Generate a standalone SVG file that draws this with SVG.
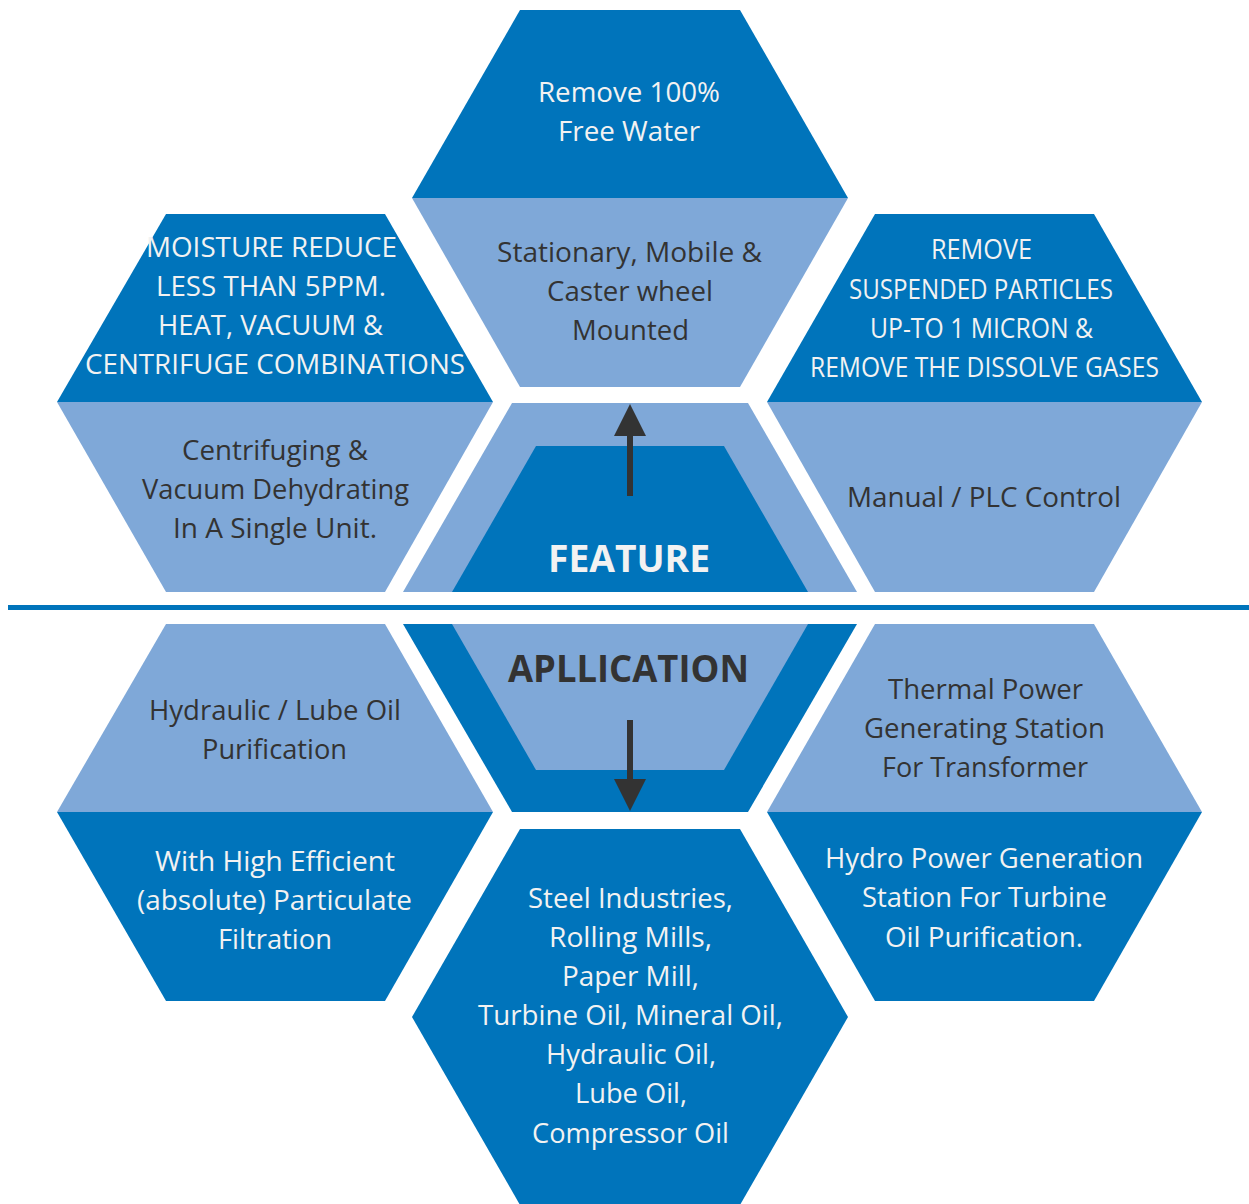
<svg xmlns="http://www.w3.org/2000/svg" width="1249" height="1204" viewBox="0 0 1249 1204">
<defs>
<style>
.dark{fill:#0074BB}
.light{fill:#7FA8D8}
text{font-family:'Open Sans','Liberation Sans',sans-serif;font-size:28px;text-anchor:middle}
.tw{fill:#F2F2F2}
.td{fill:#333333}
.title{font-weight:bold;font-size:38px}
.conn{stroke:#333333;stroke-width:6;fill:none}
</style>
<marker id="head" viewBox="0 0 32 32" markerWidth="32" markerHeight="32" markerUnits="userSpaceOnUse" refX="0" refY="16" orient="auto">
<path d="M0,0 L32,16 L0,32 z" fill="#333333"/>
</marker>
</defs>
<rect width="1249" height="1204" fill="#FFFFFF"/>

<g id="hex-top">
<polygon class="dark" points="520,10 740,10 848,198 412,198"/>
<polygon class="light" points="412,198 848,198 740,387 520,387"/>
<text class="tw" x="629" y="102" textLength="182" lengthAdjust="spacingAndGlyphs">Remove 100%</text>
<text class="tw" x="629" y="141" textLength="142" lengthAdjust="spacingAndGlyphs">Free Water</text>
<text class="td" x="629.5" y="262" textLength="265" lengthAdjust="spacingAndGlyphs">Stationary, Mobile &amp;</text>
<text class="td" x="630" y="301" textLength="166" lengthAdjust="spacingAndGlyphs">Caster wheel</text>
<text class="td" x="630.5" y="340" textLength="117" lengthAdjust="spacingAndGlyphs">Mounted</text>
</g>

<g id="hex-upper-left">
<polygon class="dark" points="166,214 385,214 493,402 57,402"/>
<polygon class="light" points="57,402 493,402 385,592 166,592"/>
<text class="tw" x="271.5" y="257" textLength="251" lengthAdjust="spacingAndGlyphs">MOISTURE REDUCE</text>
<text class="tw" x="271" y="296" textLength="230" lengthAdjust="spacingAndGlyphs">LESS THAN 5PPM.</text>
<text class="tw" x="270.5" y="335" textLength="225" lengthAdjust="spacingAndGlyphs">HEAT, VACUUM &amp;</text>
<text class="tw" x="275" y="374" textLength="380" lengthAdjust="spacingAndGlyphs">CENTRIFUGE COMBINATIONS</text>
<text class="td" x="275" y="460" textLength="186" lengthAdjust="spacingAndGlyphs">Centrifuging &amp;</text>
<text class="td" x="275.5" y="499" textLength="267" lengthAdjust="spacingAndGlyphs">Vacuum Dehydrating</text>
<text class="td" x="275" y="538" textLength="204" lengthAdjust="spacingAndGlyphs">In A Single Unit.</text>
</g>

<g id="hex-upper-right">
<polygon class="dark" points="875,214 1094,214 1202,402 767,402"/>
<polygon class="light" points="767,402 1202,402 1094,592 875,592"/>
<text class="tw" x="981.5" y="259" textLength="101" lengthAdjust="spacingAndGlyphs">REMOVE</text>
<text class="tw" x="981" y="299" textLength="264" lengthAdjust="spacingAndGlyphs">SUSPENDED PARTICLES</text>
<text class="tw" x="981.5" y="338" textLength="223" lengthAdjust="spacingAndGlyphs">UP-TO 1 MICRON &amp;</text>
<text class="tw" x="984.5" y="377" textLength="349" lengthAdjust="spacingAndGlyphs">REMOVE THE DISSOLVE GASES</text>
<text class="td" x="984" y="507" textLength="274" lengthAdjust="spacingAndGlyphs">Manual / PLC Control</text>
</g>

<g id="feature">
<polygon class="light" points="512,403 748,403 857,592 403,592"/>
<polygon class="dark" points="536,446 724,446 808,592 452,592"/>
<text class="tw title" x="629" y="572" textLength="162" lengthAdjust="spacingAndGlyphs" fill="#FFFFFF">FEATURE</text>
</g>

<g id="divider">
<rect x="8" y="605" width="1241" height="5" fill="#0074BB"/>
</g>

<g id="application">
<polygon class="dark" points="403,624 857,624 748,812 512,812"/>
<polygon class="light" points="452,624 808,624 724,770 536,770"/>
<text class="td title" x="628.5" y="682" textLength="241" lengthAdjust="spacingAndGlyphs">APLLICATION</text>
</g>

<g id="hex-lower-left">
<polygon class="light" points="166,624 385,624 493,812 57,812"/>
<polygon class="dark" points="57,812 493,812 385,1001 166,1001"/>
<text class="td" x="275" y="720" textLength="252" lengthAdjust="spacingAndGlyphs">Hydraulic / Lube Oil</text>
<text class="td" x="274.5" y="759" textLength="145" lengthAdjust="spacingAndGlyphs">Purification</text>
<text class="tw" x="275" y="871" textLength="240" lengthAdjust="spacingAndGlyphs">With High Efficient</text>
<text class="tw" x="274.5" y="910" textLength="275" lengthAdjust="spacingAndGlyphs">(absolute) Particulate</text>
<text class="tw" x="275" y="949" textLength="114" lengthAdjust="spacingAndGlyphs">Filtration</text>
</g>

<g id="hex-lower-right">
<polygon class="light" points="875,624 1094,624 1202,812 767,812"/>
<polygon class="dark" points="767,812 1202,812 1094,1001 875,1001"/>
<text class="td" x="985.5" y="699" textLength="195" lengthAdjust="spacingAndGlyphs">Thermal Power</text>
<text class="td" x="984.5" y="738" textLength="241" lengthAdjust="spacingAndGlyphs">Generating Station</text>
<text class="td" x="985" y="777" textLength="206" lengthAdjust="spacingAndGlyphs">For Transformer</text>
<text class="tw" x="984" y="868" textLength="318" lengthAdjust="spacingAndGlyphs">Hydro Power Generation</text>
<text class="tw" x="984.5" y="907" textLength="245" lengthAdjust="spacingAndGlyphs">Station For Turbine</text>
<text class="tw" x="984" y="947" textLength="198" lengthAdjust="spacingAndGlyphs">Oil Purification.</text>
</g>

<g id="hex-bottom">
<polygon class="dark" points="520,829 740,829 848,1017 740,1205 520,1205 412,1017"/>
<text class="tw" x="630.5" y="908" textLength="205" lengthAdjust="spacingAndGlyphs">Steel Industries,</text>
<text class="tw" x="630.5" y="947" textLength="163" lengthAdjust="spacingAndGlyphs">Rolling Mills,</text>
<text class="tw" x="630.5" y="986" textLength="137" lengthAdjust="spacingAndGlyphs">Paper Mill,</text>
<text class="tw" x="630.5" y="1025" textLength="305" lengthAdjust="spacingAndGlyphs">Turbine Oil, Mineral Oil,</text>
<text class="tw" x="631" y="1064" textLength="170" lengthAdjust="spacingAndGlyphs">Hydraulic Oil,</text>
<text class="tw" x="631" y="1103" textLength="112" lengthAdjust="spacingAndGlyphs">Lube Oil,</text>
<text class="tw" x="630.5" y="1143" textLength="197" lengthAdjust="spacingAndGlyphs">Compressor Oil</text>
</g>

<g id="connectors">
<line class="conn" x1="630" y1="496" x2="630" y2="436" marker-end="url(#head)"/>
<line class="conn" x1="630" y1="720" x2="630" y2="779" marker-end="url(#head)"/>
</g>
</svg>
